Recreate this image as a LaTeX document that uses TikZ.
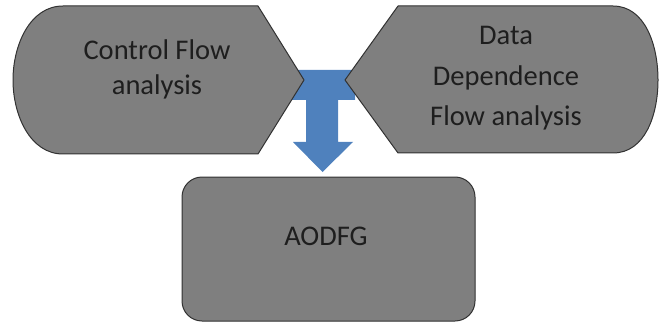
\documentclass[tikz,border=0pt]{standalone}
\usepackage{fontspec}
\setmainfont{Carlito}
\definecolor{shapegray}{RGB}{127,127,127}
\definecolor{edgegray}{RGB}{50,50,50}
\definecolor{arrowblue}{RGB}{79,129,189}
\definecolor{txt}{RGB}{30,30,30}
\begin{document}
\begin{tikzpicture}[x=1pt,y=-1pt,
  blockshape/.style={fill=shapegray,draw=edgegray,line width=1pt,line join=round},
  lbl/.style={anchor=base,text=txt,inner sep=0pt,font=\fontsize{28.5}{34}\selectfont}]
\useasboundingbox (0,0) rectangle (660,323);
% blue T-shaped block arrow (behind the shapes)
\fill[arrowblue] (290,70) -- (355,70) -- (355,100) -- (338,100) -- (338,142)
  -- (353,142) -- (322.5,172) -- (293,142) -- (306,142) -- (306,100)
  -- (290,100) -- cycle;
% left shape: Control Flow analysis
\draw[blockshape] (258,6) -- (304,80) -- (258,154) -- (63,154)
  .. controls (30,154) and (13,115) .. (13,80)
  .. controls (13,45) and (30,6) .. (63,6) -- cycle;
% right shape: Data Dependence Flow analysis
\draw[blockshape] (398,6) -- (345,80) -- (398,153) -- (613,153)
  .. controls (645,153) and (658,115) .. (658,80)
  .. controls (658,45) and (645,6) .. (613,6) -- cycle;
% bottom box
\draw[blockshape,rounded corners=20pt] (182,177) rectangle (475,321);
% texts
\node[lbl] (cf1) at (157,60) {Control Flow};
\node[lbl] (cf2) at (157,95) {analysis};
\node[lbl] (dd1) at (506,45) {Data};
\node[lbl] (dd2) at (506,86) {Dependence};
\node[lbl] (dd3) at (506,126) {Flow analysis};
\node[lbl] (aodfg) at (326,245) {AODFG};
\end{tikzpicture}
\end{document}
